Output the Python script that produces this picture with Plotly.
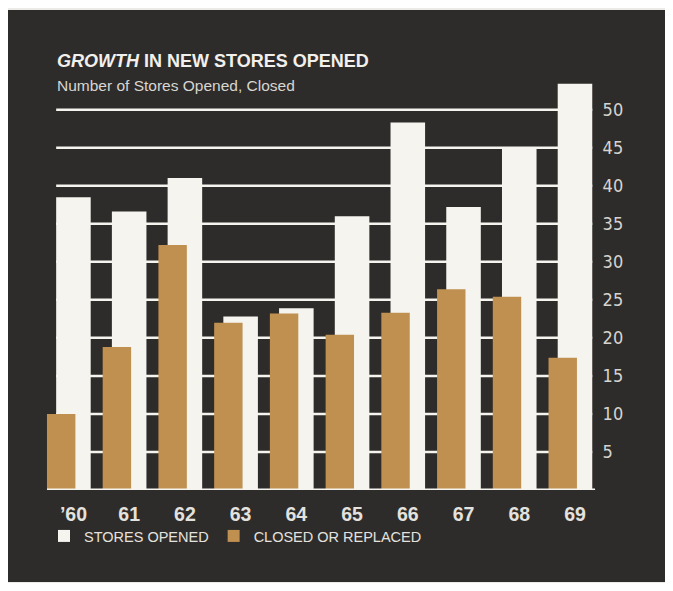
import plotly.graph_objects as go

# ---- data ----
years = ["’60", "61", "62", "63", "64", "65", "66", "67", "68", "69"]
stores_opened = [38.5, 36.6, 41.0, 22.8, 23.9, 36.0, 48.3, 37.2, 45.0, 53.4]
closed_or_replaced = [10.0, 18.8, 32.2, 22.0, 23.2, 20.4, 23.3, 26.4, 25.4, 17.4]
y_ticks = [5, 10, 15, 20, 25, 30, 35, 40, 45, 50]

# ---- style ----
DARK = "#2e2c2a"
FRAME = "#eceae6"
WHITE = "#f6f4ef"
TAN = "#bf904f"
TEXT = "#e4e2de"

OFF = 8                      # page body margin
W, H = 673 - 2 * OFF, 591 - 2 * OFF
L, R, T, B = 40 - OFF, 673 - 597 - OFF, 64 - OFF, 591 - 490 - OFF
PW, PH = W - L - R, H - T - B

white_off, white_w = -0.31, 0.62
tan_off, tan_w = -0.475, 0.51

xpos = list(range(len(years)))

fig = go.Figure()
fig.add_trace(go.Bar(
    x=xpos, y=stores_opened, name="STORES OPENED",
    marker=dict(color=WHITE, line=dict(width=0)),
    offset=white_off, width=white_w,
))
fig.add_trace(go.Bar(
    x=xpos, y=closed_or_replaced, name="CLOSED OR REPLACED",
    marker=dict(color=TAN, line=dict(width=0)),
    offset=tan_off, width=tan_w,
))

def px_x(p):
    """page pixel x -> paper coordinate"""
    return (p - OFF - L) / PW

def px_y(p):
    """page pixel y -> paper coordinate"""
    return (H - B - (p - OFF)) / PH

shapes = []
# dark panel with light frame
shapes.append(dict(type="rect", xref="paper", yref="paper",
                   x0=px_x(0), x1=px_x(665), y0=px_y(582), y1=px_y(10),
                   fillcolor=DARK, line=dict(width=0), layer="below"))
# gridlines behind bars
for v in y_ticks:
    shapes.append(dict(type="line", xref="x", yref="y",
                       x0=xpos[0] + white_off, x1=xpos[-1] + white_off + white_w,
                       y0=v, y1=v, line=dict(color=WHITE, width=2.5), layer="below"))
# baseline
shapes.append(dict(type="line", xref="x", yref="y",
                   x0=xpos[0] + tan_off, x1=xpos[-1] + white_off + white_w + 0.05,
                   y0=0, y1=0, line=dict(color=WHITE, width=3), layer="above"))

fig.update_layout(
    width=W, height=H,
    margin=dict(l=L, r=R, t=T, b=B, pad=0),
    paper_bgcolor=FRAME, plot_bgcolor="rgba(0,0,0,0)",
    barmode="overlay",
    shapes=shapes,
    showlegend=True,
    legend=dict(orientation="h", x=px_x(44), y=px_y(536), xanchor="left", yanchor="middle",
                font=dict(family="Liberation Sans", size=14.5, color=TEXT),
                bgcolor="rgba(0,0,0,0)", traceorder="normal"),
    xaxis=dict(range=[-0.6, 9.395], tickvals=xpos, ticktext=years,
               showgrid=False, zeroline=False, showline=False,
               ticks="outside", ticklen=7, tickcolor="rgba(0,0,0,0)",
               tickfont=dict(family="Liberation Sans", size=19.5, color=TEXT, weight="bold"),
               fixedrange=True),
    yaxis=dict(range=[0, 56], side="right", tickvals=y_ticks,
               ticktext=[str(v) for v in y_ticks],
               showgrid=False, zeroline=False, showline=False,
               ticks="outside", ticklen=1, tickcolor="rgba(0,0,0,0)",
               tickfont=dict(family="Liberation Sans Narrow, DejaVu Sans Condensed", size=18, color="#d6d4d0"),
               fixedrange=True),
    annotations=[
        dict(xref="paper", yref="paper", x=px_x(55), y=px_y(61), xanchor="left", yanchor="middle",
             text="<b><i>GROWTH</i> IN NEW STORES OPENED</b>", showarrow=False,
             font=dict(family="Liberation Sans", size=18, color="#f2f0ec")),
        dict(xref="paper", yref="paper", x=px_x(55), y=px_y(85), xanchor="left", yanchor="middle",
             text="Number of Stores Opened, Closed", showarrow=False,
             font=dict(family="Liberation Sans", size=15.5, color="#d8d6d2")),
    ],
)

fig.write_html("out.html")
